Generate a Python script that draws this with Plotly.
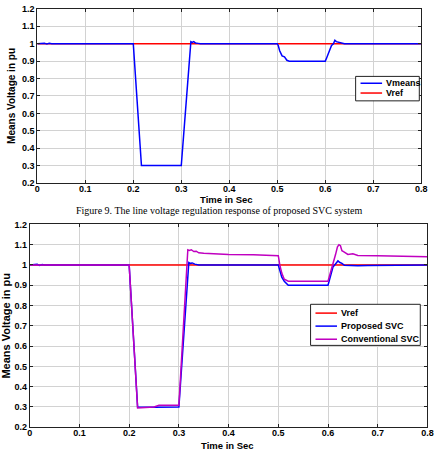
import plotly.graph_objects as go

# ---------------- data ----------------
t_top = [0, 0.01, 0.015, 0.02, 0.025, 0.03, 0.2, 0.217, 0.3, 0.32, 0.323, 0.326, 0.33,
         0.335, 0.34, 0.5, 0.502, 0.505, 0.51, 0.515, 0.52, 0.525, 0.6, 0.603, 0.608,
         0.613, 0.617, 0.62, 0.623, 0.626, 0.629, 0.632, 0.636, 0.64, 0.8]
v_means = [1.0, 1.0, 1.003, 0.998, 1.002, 1.0, 1.0, 0.3, 0.3, 1.012, 1.008, 1.012, 1.004,
           1.002, 1.0, 1.0, 0.99, 0.96, 0.93, 0.925, 0.905, 0.9, 0.9, 0.92, 0.96,
           0.99, 1.0, 1.02, 1.012, 1.01, 1.006, 1.004, 1.002, 1.0, 1.0]
t_ref = [0, 0.8]
v_ref = [1.0, 1.0]

t_prop = [0, 0.01, 0.015, 0.02, 0.025, 0.03, 0.2, 0.217, 0.25, 0.3, 0.32, 0.323, 0.327,
          0.332, 0.34, 0.5, 0.503, 0.507, 0.512, 0.52, 0.6, 0.605, 0.61, 0.615, 0.62,
          0.624, 0.628, 0.633, 0.64, 0.66, 0.68, 0.7, 0.8]
v_prop = [1.0, 1.0, 1.003, 0.998, 1.002, 1.0, 1.0, 0.3, 0.298, 0.3, 1.012, 1.008, 1.01,
          1.004, 1.0, 1.0, 0.97, 0.94, 0.92, 0.9, 0.9, 0.95, 0.99, 1.005, 1.02,
          1.012, 1.008, 0.998, 0.997, 0.996, 0.997, 0.998, 1.0]
t_conv = [0, 0.2, 0.217, 0.25, 0.26, 0.3, 0.318, 0.321, 0.325, 0.33, 0.335, 0.34, 0.35,
          0.37, 0.4, 0.45, 0.5, 0.503, 0.507, 0.512, 0.52, 0.6, 0.605, 0.61, 0.615,
          0.619, 0.622, 0.625, 0.628, 0.632, 0.636, 0.64, 0.65, 0.66, 0.7, 0.8]
v_conv = [1.0, 1.0, 0.295, 0.3, 0.308, 0.308, 1.075, 1.072, 1.075, 1.066, 1.068, 1.06, 1.058,
          1.055, 1.052, 1.05, 1.046, 1.0, 0.96, 0.93, 0.92, 0.92, 0.96, 1.01, 1.05,
          1.09, 1.1, 1.095, 1.07, 1.065, 1.06, 1.052, 1.055, 1.047, 1.045, 1.04]

x_ticks = [0, 0.1, 0.2, 0.3, 0.4, 0.5, 0.6, 0.7, 0.8]
y_ticks = [0.2, 0.3, 0.4, 0.5, 0.6, 0.7, 0.8, 0.9, 1.0, 1.1, 1.2]

top_names = ["Vmeans", "Vref"]
bottom_names = ["Vref", "Proposed SVC", "Conventional SVC"]
x_title = "Time in Sec"
y_title = "Means Voltage in pu"
caption = "Figure 9. The line voltage regulation response of proposed SVC system"

# ---------------- figure ----------------
BLUE = "#0000ff"
RED = "#ff0000"
MAG = "#c000c0"
FONT = "Liberation Sans"
W, H = 440, 457

fig = go.Figure()
fig.add_trace(go.Scatter(x=t_ref, y=v_ref, mode="lines", name=top_names[1],
                         line=dict(color=RED, width=1.5), xaxis="x", yaxis="y"))
fig.add_trace(go.Scatter(x=t_top, y=v_means, mode="lines", name=top_names[0],
                         line=dict(color=BLUE, width=1.5), xaxis="x", yaxis="y"))
fig.add_trace(go.Scatter(x=t_ref, y=v_ref, mode="lines", name=bottom_names[0],
                         line=dict(color=RED, width=1.5), xaxis="x2", yaxis="y2"))
fig.add_trace(go.Scatter(x=t_prop, y=v_prop, mode="lines", name=bottom_names[1],
                         line=dict(color=BLUE, width=1.5), xaxis="x2", yaxis="y2"))
fig.add_trace(go.Scatter(x=t_conv, y=v_conv, mode="lines", name=bottom_names[2],
                         line=dict(color=MAG, width=1.5), xaxis="x2", yaxis="y2"))
fig.update_traces(showlegend=False)

tickfont = dict(family=FONT, size=9, color="black", weight="bold")

def xax(domain, anchor):
    return dict(domain=domain, anchor=anchor, range=[0, 0.8], tickvals=x_ticks,
                showgrid=True, gridcolor="#d2d2d2", gridwidth=1, zeroline=False,
                showline=True, linecolor="#222222", linewidth=1, mirror="ticks",
                ticks="inside", ticklen=3, tickcolor="#222222",
                tickfont=tickfont, ticklabelstandoff=-3)

def yax(domain, anchor, tsize):
    return dict(domain=domain, anchor=anchor, range=[0.2, 1.2], tickvals=y_ticks,
                showgrid=True, gridcolor="#d2d2d2", gridwidth=1, zeroline=False,
                showline=True, linecolor="#222222", linewidth=1, mirror="ticks",
                ticks="inside", ticklen=3, tickcolor="#222222",
                tickfont=tickfont,
                title=dict(text=y_title, standoff=4,
                           font=dict(family=FONT, size=tsize, color="black", weight="bold")))

def px(x):
    return x / W

def py(y):
    return 1 - y / H

shapes = []
annotations = []

def add_legend(box, line_x, rows, names, colors):
    x0, x1, y0, y1 = box
    shapes.append(dict(type="rect", xref="paper", yref="paper",
                       x0=px(x0), x1=px(x1), y0=py(y1), y1=py(y0),
                       line=dict(color="#222222", width=1), fillcolor="white", layer="above"))
    for name, color, ry in zip(names, colors, rows):
        shapes.append(dict(type="line", xref="paper", yref="paper",
                           x0=px(line_x[0]), x1=px(line_x[1]), y0=py(ry), y1=py(ry),
                           line=dict(color=color, width=1.5), layer="above"))
        annotations.append(dict(text=name, x=px(line_x[1] + 2), y=py(ry), xref="paper",
                                yref="paper", showarrow=False, xanchor="left",
                                yanchor="middle",
                                font=dict(family=FONT, size=9, color="black", weight="bold")))

add_legend((360, 425, 73, 98), (365, 387), (80, 90), top_names, [BLUE, RED])
add_legend((314, 426, 306, 348), (319, 341), (315, 328.3, 341.7), bottom_names,
           [RED, BLUE, MAG])

# x-axis titles
for cx, cy in ((228, 198.5), (229, 450.5)):
    annotations.append(dict(text=x_title, x=px(cx), y=py(cy), xref="paper", yref="paper",
                            showarrow=False, xanchor="center", yanchor="middle",
                            font=dict(family=FONT, size=9.5, color="black", weight="bold")))

annotations.append(dict(text=caption, x=0.5, y=py(210.5), xref="paper", yref="paper",
                        showarrow=False, xanchor="center", yanchor="middle",
                        font=dict(family="Liberation Serif", size=10, color="black")))

fig.update_layout(
    width=W, height=H,
    margin=dict(l=0, r=0, t=0, b=0),
    paper_bgcolor="white", plot_bgcolor="white",
    xaxis=xax([px(35), px(427)], "y"),
    yaxis=yax([py(182), py(4)], "x", 10),
    xaxis2=xax([px(27.3), px(433.3)], "y2"),
    yaxis2=yax([py(431.7), py(224.3)], "x2", 11),
    shapes=shapes,
    annotations=annotations,
)

fig.write_html("out.html")
